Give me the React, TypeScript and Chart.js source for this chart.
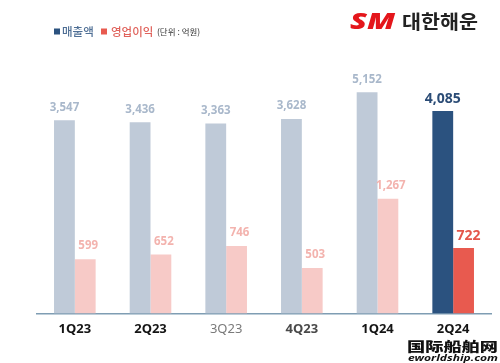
import React, { useEffect, useRef } from "react";
import { Chart, registerables } from "chart.js";

Chart.register(...registerables);

const categories = ["1Q23", "2Q23", "3Q23", "4Q23", "1Q24", "2Q24"];
const revenue = [3547, 3436, 3363, 3628, 5152, 4085];
const operatingProfit = [599, 652, 746, 503, 1267, 722];
const seriesNames = ["매출액", "영업이익"];
const unitNote = "(단위 : 억원)";
const brandMark = "SM";
const brandName = "대한해운";
const watermarkCn = "国际船舶网";
const watermarkUrl = "eworldship.com";

const tickColors = ["#151515", "#151515", "#7a7a7a", "#4a4a4a", "#151515", "#151515"];
const tickWeights = ["bold", "bold", "normal", "bold", "bold", "bold"];

const FONT = '"Noto Sans", "Noto Sans CJK KR", sans-serif';
const KFONT = '"Noto Sans CJK KR", "Noto Sans", sans-serif';

const REV_MIN = -7500;
const REV_MAX = 7000;
const OP_MIN = 0;
const OP_MAX = 2800;

const revColors = ["#bfcad8", "#bfcad8", "#bfcad8", "#bfcad8", "#bfcad8", "#2b527f"];
const opColors = ["#f7cac7", "#f7cac7", "#f7cac7", "#f7cac7", "#f7cac7", "#e85a4f"];
const revLabel = ["#a9b8cb", "#2b4c76"];
const opLabel = ["#f3b3ae", "#e4564b"];

const overlay = {
  id: "overlay",
  afterDatasetsDraw(chart: any) {
    const ctx = chart.ctx;
    ctx.save();
    ctx.textAlign = "center";
    ctx.textBaseline = "middle";
    chart.data.datasets.forEach((ds: any, di: number) => {
      const meta = chart.getDatasetMeta(di);
      meta.data.forEach((bar: any, i: number) => {
        const last = i === categories.length - 1;
        const v = ds.data[i] as number;
        const pal = di === 0 ? revLabel : opLabel;
        ctx.fillStyle = last ? pal[1] : pal[0];
        ctx.font = last ? `bold 14px ${FONT}` : `bold 11.5px ${FONT}`;
        const dx = di === 1 ? (last ? 5 : 3) : 0;
        ctx.fillText(v.toLocaleString("en-US"), bar.x + dx, bar.y - (last ? 12 : 13));
      });
    });
    ctx.restore();
  },
  afterDraw(chart: any) {
    const ctx = chart.ctx;
    ctx.save();
    // legend
    ctx.textBaseline = "middle";
    ctx.textAlign = "left";
    ctx.fillStyle = "#2b527f";
    ctx.fillRect(54, 28.5, 6, 6);
    ctx.font = `500 11.5px ${KFONT}`;
    ctx.fillStyle = "#4f6f95";
    ctx.fillText(seriesNames[0], 62, 31.5);
    ctx.fillStyle = "#e85a4f";
    ctx.fillRect(101, 28.5, 6, 6);
    ctx.fillStyle = "#e0625b";
    ctx.fillText(seriesNames[1], 111, 31.5);
    ctx.font = `8.5px ${KFONT}`;
    ctx.fillStyle = "#333333";
    ctx.fillText(unitNote, 157, 32);

    // brand logo
    ctx.font = `italic 900 23px ${FONT}`;
    const grad = ctx.createLinearGradient(350, 13, 395, 30);
    grad.addColorStop(0, "#e4161b");
    grad.addColorStop(0.6, "#e83a1c");
    grad.addColorStop(1, "#f08a1c");
    ctx.fillStyle = grad;
    const smW = ctx.measureText(brandMark).width;
    ctx.save();
    ctx.translate(350, 22);
    ctx.scale(45 / smW, 1);
    ctx.fillText(brandMark, 0, 0);
    ctx.restore();
    ctx.font = `bold 19px ${KFONT}`;
    ctx.fillStyle = "#222222";
    const bw = ctx.measureText(brandName).width;
    ctx.save();
    ctx.translate(402, 22);
    ctx.scale(76 / bw, 1);
    ctx.fillText(brandName, 0, 0);
    ctx.restore();

    // watermark
    ctx.font = `900 16px "Noto Sans CJK SC", sans-serif`;
    ctx.fillStyle = "#111111";
    const cw = ctx.measureText(watermarkCn).width;
    ctx.save();
    ctx.translate(407, 346);
    ctx.scale(91 / cw, 0.8);
    ctx.fillText(watermarkCn, 0, 0);
    ctx.restore();
    ctx.font = `italic bold 9px ${FONT}`;
    const uw = ctx.measureText(watermarkUrl).width;
    ctx.save();
    ctx.translate(408, 358);
    ctx.scale(90 / uw, 1);
    ctx.fillText(watermarkUrl, 0, 0);
    ctx.restore();
    ctx.restore();
  },
};

export default function App() {
  const ref = useRef<HTMLCanvasElement | null>(null);
  useEffect(() => {
    document.body.style.margin = "0";
    const canvas = ref.current;
    if (!canvas) return;
    const chart = new Chart(canvas, {
      type: "bar",
      data: {
        labels: categories,
        datasets: [
          {
            label: seriesNames[0],
            data: revenue,
            backgroundColor: revColors,
            yAxisID: "y",
            base: REV_MIN,
            categoryPercentage: 0.55,
            barPercentage: 1.0,
          },
          {
            label: seriesNames[1],
            data: operatingProfit,
            backgroundColor: opColors,
            yAxisID: "y1",
            base: OP_MIN,
            categoryPercentage: 0.55,
            barPercentage: 1.0,
          },
        ],
      },
      options: {
        animation: false,
        responsive: false,
        devicePixelRatio: 1,
        layout: { padding: { left: 37, right: 9, top: 60, bottom: 18 } },
        plugins: { legend: { display: false }, tooltip: { enabled: false } },
        scales: {
          x: {
            grid: { display: false, drawTicks: false },
            border: { display: true, color: "#7f9db3", width: 1.5 },
            ticks: {
              padding: 8,
              color: (c: any) => tickColors[c.index] || "#151515",
              font: (c: any) => ({ family: FONT, size: 13, weight: tickWeights[c.index] || "bold" }),
            },
          },
          y: { display: false, min: REV_MIN, max: REV_MAX },
          y1: { display: false, min: OP_MIN, max: OP_MAX },
        },
      },
      plugins: [overlay],
    } as any);
    return () => chart.destroy();
  }, []);
  return (
    <div style={{ width: 500, height: 363, background: "#fff" }}>
      <canvas ref={ref} width={500} height={363} />
    </div>
  );
}
